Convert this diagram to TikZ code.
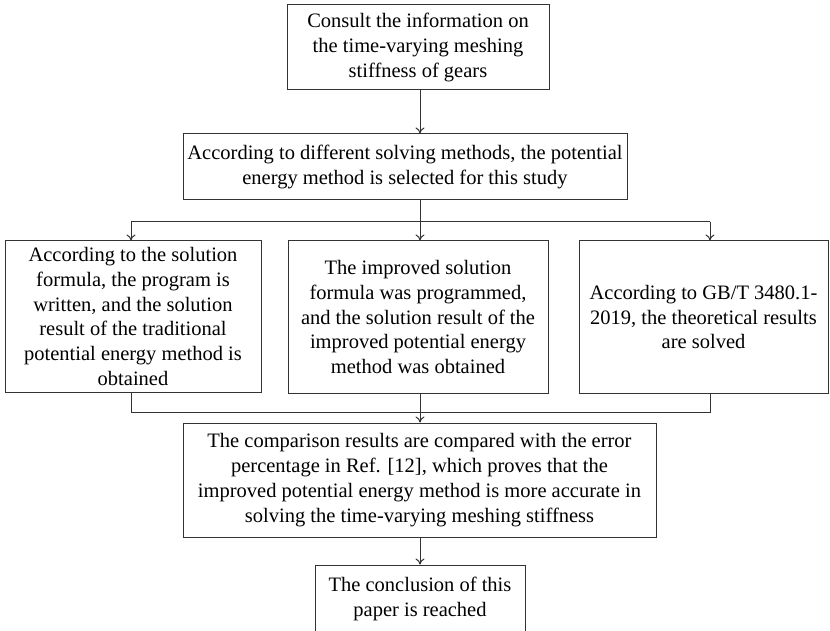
\documentclass[tikz,border=0pt]{standalone}
\usepackage{fontspec}
\setmainfont{Liberation Serif}
\usetikzlibrary{arrows.meta}
\definecolor{lc}{HTML}{333333}
\begin{document}
\begin{tikzpicture}[x=1pt,y=-1pt,
  box/.style={draw=lc,line width=1pt,inner sep=0pt,align=center,
    font=\fontsize{20.5}{24.8}\selectfont},
  conn/.style={draw=lc,line width=1pt},
  arr/.style={conn,-{To[length=6pt,width=9pt,line width=1pt]}}]
\useasboundingbox[fill=white] (0,0) rectangle (830,631);
\node[box,minimum width=262pt,minimum height=85pt] (b1) at (418,47.5)
  {Consult the information on\\the time-varying meshing\\stiffness of gears};
\node[box,minimum width=444pt,minimum height=66pt] (b2) at (405,167)
  {According to different solving methods, the potential\\energy method is selected for this study};
\node[box,minimum width=256pt,minimum height=151pt] (b3) at (133,316.5)
  {According to the solution\\formula, the program is\\written, and the solution\\result of the traditional\\potential energy method is\\obtained};
\node[box,minimum width=260pt,minimum height=152pt] (b4) at (418,317)
  {The improved solution\\formula was programmed,\\and the solution result of the\\improved potential energy\\method was obtained};
\node[box,minimum width=249pt,minimum height=152pt] (b5) at (703.5,317)
  {According to GB/T 3480.1-\\2019, the theoretical results\\are solved};
\node[box,minimum width=473pt,minimum height=114pt] (b6) at (419.5,480)
  {The comparison results are compared with the error\\percentage in Ref. [12], which proves that the\\improved potential energy method is more accurate in\\solving the time-varying meshing stiffness};
\node[box,minimum width=210pt,minimum height=68pt] (b7) at (420,599)
  {The conclusion of this\\paper is reached};
\coordinate (jl) at (131,222);
\coordinate (jm) at (420,222);
\coordinate (jr) at (710,222);
\coordinate (ml) at (131,412);
\coordinate (mr) at (710,412);
\draw[arr] (jm |- b1.south) -- (jm |- b2.north);
\draw[conn] (jm |- b2.south) -- (jm);
\draw[conn] (jl) -- (jr);
\draw[arr] (jl) -- (jl |- b3.north);
\draw[arr] (jm) -- (jm |- b4.north);
\draw[arr] (jr) -- (jr |- b5.north);
\draw[conn] (jl |- b3.south) -- (ml) -- (mr) -- (jr |- b5.south);
\draw[arr] (jm |- b4.south) -- (jm |- b6.north);
\draw[arr] (jm |- b6.south) -- (jm |- b7.north);
\end{tikzpicture}
\end{document}
